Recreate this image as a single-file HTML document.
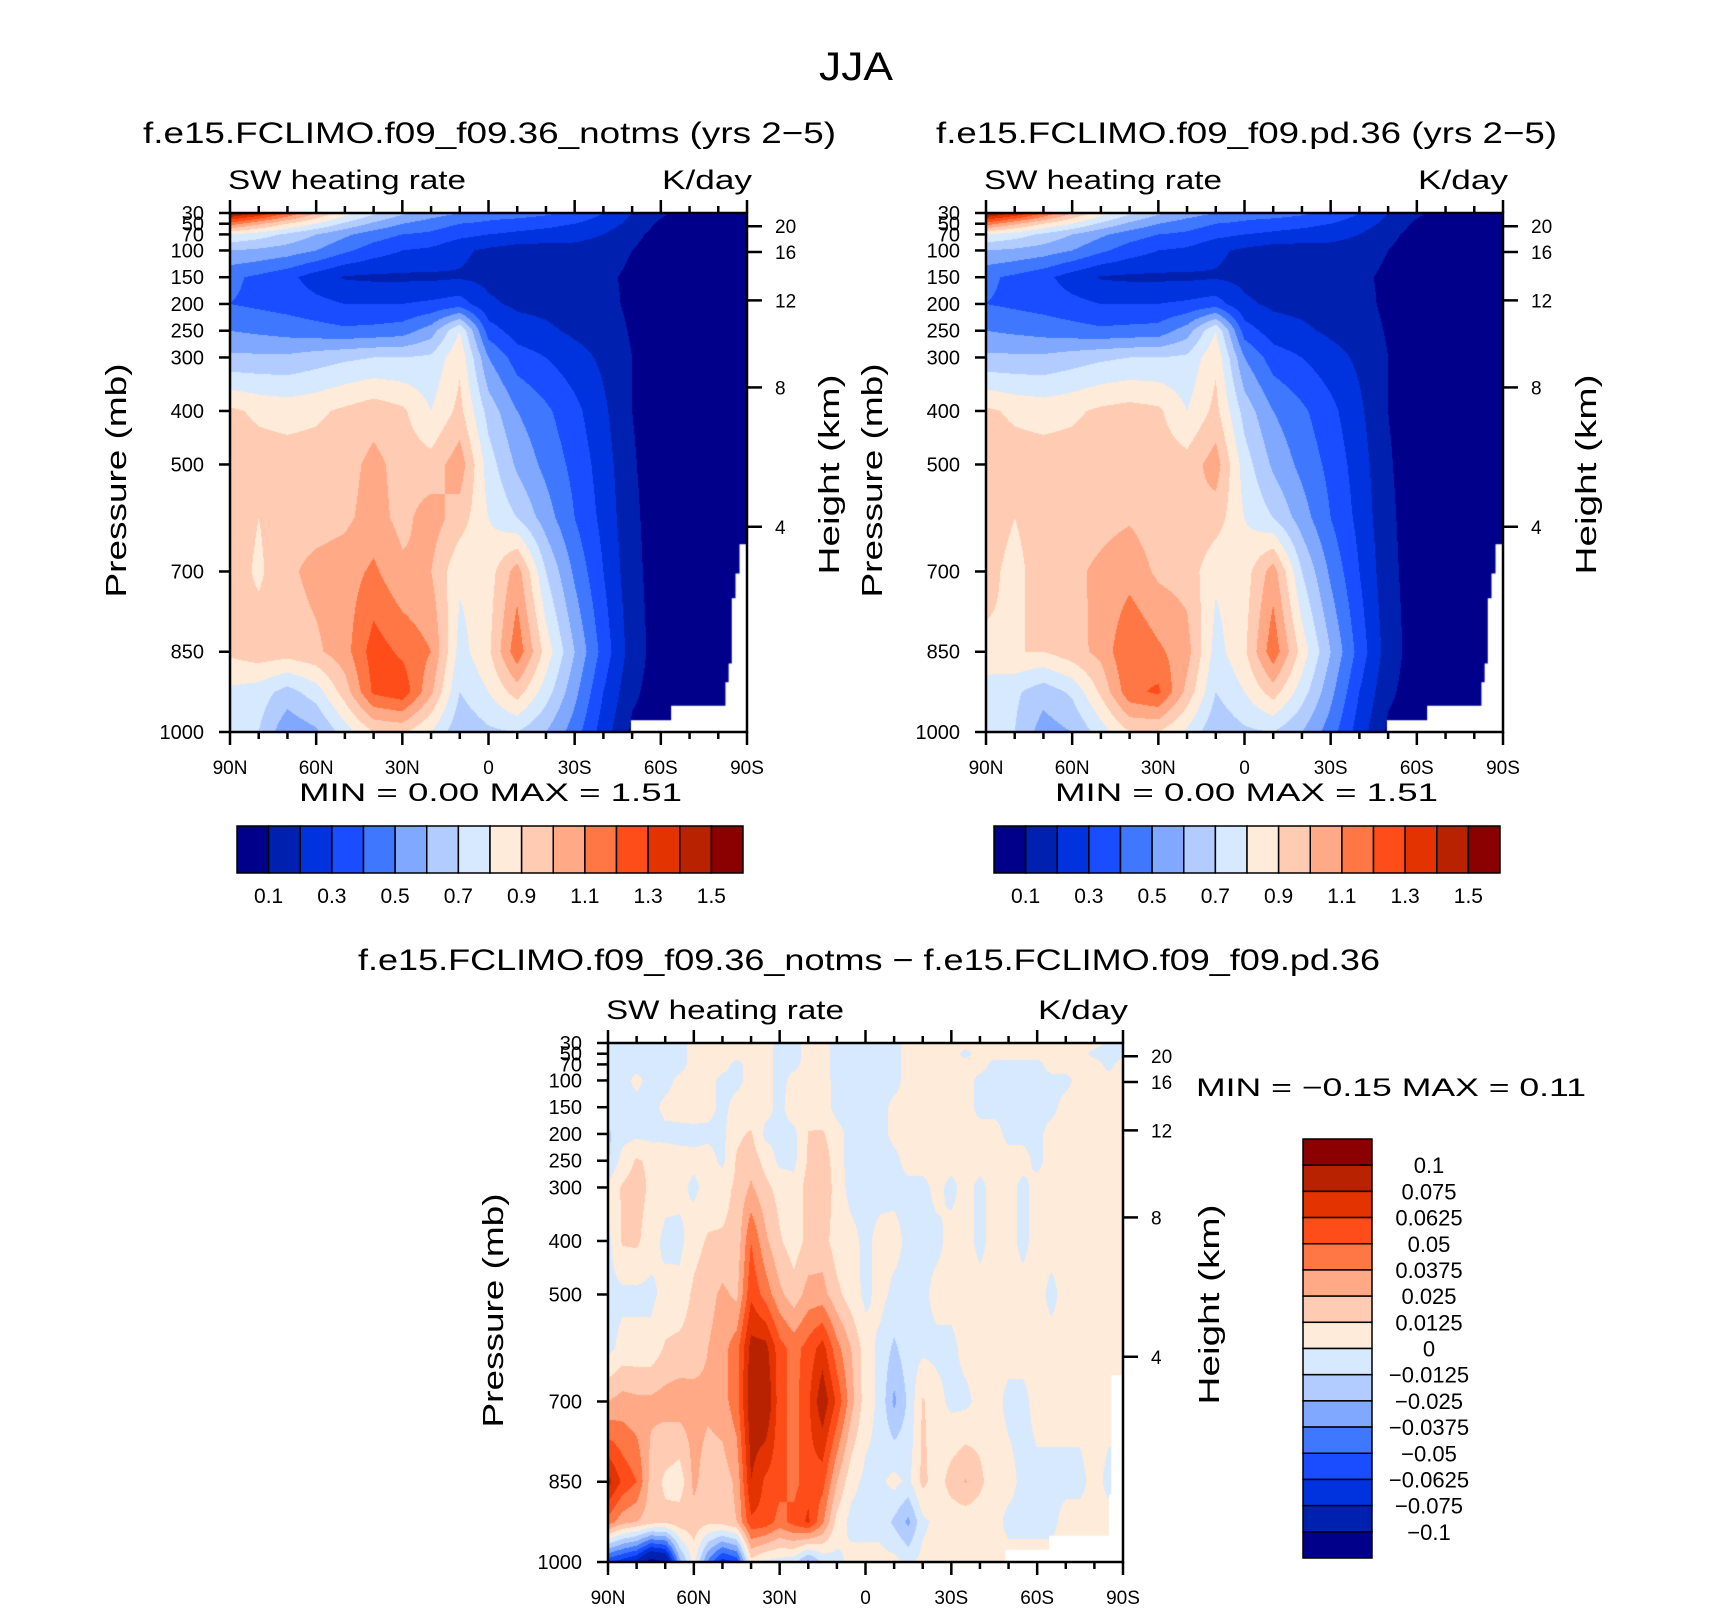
<!DOCTYPE html>
<html><head><meta charset="utf-8">
<style>
html,body{margin:0;padding:0;background:#fff;}
#wrap{position:relative;width:1710px;height:1611px;overflow:hidden;background:#fff;}
canvas{position:absolute;}
svg{position:absolute;left:0;top:0;}
text{font-family:"Liberation Sans",sans-serif;fill:#000;}
</style></head>
<body>
<div id="wrap">
<canvas id="c0"></canvas>
<canvas id="c1"></canvas>
<canvas id="c2"></canvas>
<svg id="ov" width="1710" height="1611"></svg>
</div>
<script>
// ---------- data ----------
const colors=["#00008b","#0021b0","#0033dd","#1a4dff","#4077ff","#80a8ff","#b3ccff","#d6e9ff","#ffebd9","#ffcbb3","#ffa986","#ff7744","#ff4d1a","#e33300","#b82200","#8b0000"];
const pressureLevels=[30,50,70,100,150,200,250,300,400,500,600,700,850,925,1000];
const latsCoarse=[90,80,70,60,50,40,30,20,10,0,-10,-20,-30,-40,-50,-60,-70,-80,-90];
const latsFine=[90,85,80,75,70,65,60,55,50,45,40,35,30,25,20,15,10,5,0,-5,-10,-15,-20,-25,-30,-35,-40,-45,-50,-55,-60,-65,-70,-75,-80,-85,-90];
const contourLevels=[0.1,0.2,0.3,0.4,0.5,0.6,0.7,0.8,0.9,1.0,1.1,1.2,1.3,1.4,1.5];
const diffLevelsMilli=[-100,-75,-62.5,-50,-37.5,-25,-12.5,0,12.5,25,37.5,50,62.5,75,100];
const barLabels=["0.1","0.3","0.5","0.7","0.9","1.1","1.3","1.5"];
const diffBarLabels=["0.1","0.075","0.0625","0.05","0.0375","0.025","0.0125","0","\u22120.0125","\u22120.025","\u22120.0375","\u22120.05","\u22120.0625","\u22120.075","\u22120.1"];
const latTickLabels=["90N","60N","30N","0","30S","60S","90S"];
const pressureTicks=[30,50,70,100,150,200,250,300,400,500,700,850,1000];
const heightTicks=[20,16,12,8,4];
// SW heating rate, notms (K/day), rows = pressureLevels, cols = latsCoarse
const notmsValues=[
[1.55,1.4,1.2,1.0,0.85,0.72,0.62,0.55,0.5,0.45,0.45,0.42,0.38,0.3,0.2,0.12,0.05,0.05,0.05],
[1.15,1.02,0.9,0.8,0.68,0.58,0.5,0.45,0.4,0.38,0.35,0.33,0.3,0.25,0.17,0.08,0.05,0.05,0.05],
[0.8,0.75,0.68,0.6,0.52,0.45,0.4,0.38,0.33,0.3,0.28,0.26,0.24,0.2,0.13,0.06,0.05,0.05,0.05],
[0.6,0.58,0.55,0.5,0.42,0.35,0.3,0.28,0.22,0.18,0.15,0.15,0.16,0.15,0.1,0.05,0.05,0.05,0.05],
[0.42,0.38,0.33,0.25,0.19,0.18,0.18,0.18,0.19,0.17,0.15,0.14,0.13,0.12,0.08,0.05,0.05,0.05,0.05],
[0.4,0.38,0.36,0.33,0.3,0.3,0.3,0.32,0.35,0.22,0.18,0.17,0.15,0.13,0.08,0.05,0.05,0.05,0.05],
[0.5,0.48,0.46,0.44,0.42,0.43,0.45,0.55,0.8,0.35,0.25,0.22,0.18,0.15,0.09,0.05,0.05,0.05,0.05],
[0.62,0.62,0.62,0.65,0.68,0.7,0.7,0.72,0.88,0.5,0.35,0.3,0.24,0.18,0.1,0.05,0.05,0.05,0.05],
[0.92,0.88,0.86,0.88,0.92,0.96,0.92,0.8,0.93,0.66,0.5,0.42,0.33,0.22,0.1,0.05,0.05,0.05,0.05],
[0.96,0.95,0.95,0.95,0.96,1.03,0.96,0.94,1.06,0.75,0.58,0.47,0.37,0.25,0.11,0.05,0.05,0.05,0.05],
[0.96,0.9,0.96,0.96,0.98,1.04,0.97,1.05,0.95,0.8,0.7,0.55,0.4,0.27,0.12,0.05,0.05,0.05,0.05],
[0.96,0.88,0.98,1.03,1.05,1.12,1.02,1.0,0.82,0.85,1.05,0.7,0.48,0.3,0.13,0.05,0.05,0.05,0.05],
[0.92,0.96,0.95,0.98,1.06,1.25,1.18,1.1,0.76,0.88,1.17,0.86,0.6,0.36,0.15,0.05,0.05,0.05,0.05],
[0.78,0.75,0.66,0.75,0.95,1.22,1.27,1.02,0.7,0.8,0.95,0.75,0.53,0.3,0.12,0.05,0.05,0.05,0.05],
[0.72,0.7,0.52,0.58,0.75,0.9,0.92,0.8,0.62,0.68,0.7,0.6,0.45,0.25,0.08,0.05,0.05,0.05,0.05]
];
// SW heating rate, pd (K/day)
const pdValues=[
[1.55,1.4,1.2,1.0,0.85,0.72,0.62,0.55,0.5,0.45,0.45,0.42,0.38,0.3,0.2,0.12,0.05,0.05,0.05],
[1.15,1.02,0.9,0.8,0.68,0.58,0.5,0.45,0.4,0.38,0.35,0.33,0.3,0.25,0.17,0.08,0.05,0.05,0.05],
[0.8,0.75,0.68,0.6,0.52,0.45,0.4,0.38,0.33,0.3,0.28,0.26,0.24,0.2,0.13,0.06,0.05,0.05,0.05],
[0.6,0.58,0.55,0.5,0.42,0.35,0.3,0.28,0.22,0.18,0.15,0.15,0.16,0.15,0.1,0.05,0.05,0.05,0.05],
[0.42,0.38,0.33,0.25,0.19,0.18,0.18,0.18,0.19,0.17,0.15,0.14,0.13,0.12,0.08,0.05,0.05,0.05,0.05],
[0.4,0.38,0.36,0.33,0.3,0.3,0.3,0.32,0.35,0.22,0.18,0.17,0.15,0.13,0.08,0.05,0.05,0.05,0.05],
[0.5,0.48,0.46,0.44,0.42,0.43,0.44,0.55,0.8,0.35,0.25,0.22,0.18,0.15,0.09,0.05,0.05,0.05,0.05],
[0.62,0.62,0.62,0.65,0.68,0.7,0.7,0.72,0.88,0.5,0.35,0.3,0.24,0.18,0.1,0.05,0.05,0.05,0.05],
[0.92,0.88,0.86,0.88,0.92,0.94,0.92,0.8,0.93,0.66,0.5,0.42,0.33,0.22,0.1,0.05,0.05,0.05,0.05],
[0.96,0.95,0.95,0.95,0.96,0.98,0.96,0.94,1.05,0.75,0.58,0.47,0.37,0.25,0.11,0.05,0.05,0.05,0.05],
[0.95,0.9,0.95,0.95,0.97,0.99,0.95,1.0,0.95,0.8,0.7,0.55,0.4,0.27,0.12,0.05,0.05,0.05,0.05],
[0.93,0.87,0.95,0.98,1.02,1.06,0.98,0.96,0.82,0.85,1.05,0.7,0.48,0.3,0.13,0.05,0.05,0.05,0.05],
[0.88,0.9,0.9,0.96,1.03,1.2,1.12,1.04,0.76,0.88,1.17,0.86,0.6,0.36,0.15,0.05,0.05,0.05,0.05],
[0.74,0.72,0.64,0.72,0.92,1.17,1.22,0.97,0.7,0.8,0.95,0.75,0.53,0.3,0.12,0.05,0.05,0.05,0.05],
[0.72,0.7,0.55,0.6,0.75,0.9,0.9,0.78,0.62,0.68,0.7,0.6,0.45,0.25,0.08,0.05,0.05,0.05,0.05]
];
// difference notms - pd, in units of 1e-3 K/day; rows = pressureLevels, cols = latsFine
const diffValuesMilli=[
[-4,-4,-4,-4,-4,-4,4,4,4,4,4,4,-4,-4,4,4,-4,-4,-4,-4,-4,4,4,4,4,4,4,4,4,4,4,4,4,4,4,-3,-3],
[-4,-4,-4,-4,-4,-4,4,4,4,4,4,4,-4,-4,4,4,-4,-4,-4,-4,-4,4,4,4,4,-3,4,4,4,4,4,4,4,4,-3,-3,-3],
[-4,-4,-4,-4,-4,-4,4,4,4,-3,4,4,-4,-3,4,4,-4,-4,-4,-4,-4,4,4,4,4,4,4,-3,-3,-3,-3,4,4,4,4,-3,4],
[-4,-4,3,-4,-4,3,4,4,-3,-3,4,4,-4,4,5,5,-4,-4,-4,-4,-4,4,4,4,4,4,-3,-3,-3,-3,-3,-3,-3,4,4,4,4],
[-4,-4,-4,-4,3,4,5,4,-3,4,5,4,-3,6,8,5,-4,-4,-4,-4,3,4,4,4,4,4,-3,-3,-3,-3,-3,-3,4,4,4,4,4],
[-15,-5,-3,-4,-3,-3,-3,-3,-3,10,14,-3,-3,-3,13,14,4,-4,-4,-4,3,4,4,4,4,4,4,4,-3,-3,-3,4,4,4,4,4,4],
[-14,5,14,10,6,4,3,5,-3,14,20,8,-3,-3,14,22,4,-4,-4,-4,-3,4,4,4,4,4,4,4,4,4,-3,4,4,4,4,4,4],
[4,14,18,10,4,4,-3,5,8,15,27,16,8,4,18,24,6,-4,-4,-4,-3,-3,-3,3,-3,4,-3,4,4,-3,4,4,4,4,4,4,4],
[-4,14,15,5,-3,-4,8,14,14,16,50,28,14,6,16,18,6,4,-3,4,4,-3,-3,-3,4,4,-3,4,4,-3,4,4,4,4,4,4,4],
[-4,-3,-3,-3,4,5,15,20,28,22,60,45,28,18,30,30,16,6,-3,4,-3,-3,-3,4,4,4,4,4,4,4,4,-3,4,4,4,4,4],
[-4,4,4,4,14,16,18,25,32,45,80,80,55,45,55,68,42,25,6,-3,-15,-5,-3,-3,-3,4,4,4,4,4,4,4,4,4,4,4,4],
[25,30,28,28,30,32,30,28,32,45,85,90,55,45,60,85,60,30,6,-3,-28,-10,14,4,-3,-3,4,4,-3,-3,4,4,4,4,4,4,4],
[80,60,50,20,10,5,28,18,18,28,75,60,55,45,58,55,25,4,-3,-3,4,-3,16,6,18,26,16,4,4,-3,-3,-3,-3,-3,4,-3,-3],
[45,30,25,18,16,20,20,16,18,25,60,58,45,55,65,40,8,-4,-4,-4,-15,-28,-3,4,4,4,4,4,-3,-3,-3,-3,4,4,4,4,4],
[-60,-70,-80,-110,-100,-30,5,-40,-70,-60,8,-3,-5,-8,-30,-10,-4,4,4,4,4,-3,4,4,4,4,4,4,4,4,4,4,4,4,4,4,4]
];
// missing-data (topography) outlines as [lat, pressure]
const maskTop=[[-87.4,649],[-90,649],[-90,1000],[-49.6,1000],[-49.6,978],[-63.6,978],[-63.6,951],[-82.5,951],[-82.5,907],[-83.6,907],[-83.6,872],[-84.7,872],[-84.7,750],[-86,750],[-86,704],[-87.4,704]];
const maskDiff=[[-85.9,651],[-90,651],[-90,1000],[-48.9,1000],[-48.9,977],[-64.2,977],[-64.2,951],[-85.1,951],[-85.1,874],[-85.9,874]];

// ---------- rendering ----------
const NS="http://www.w3.org/2000/svg";
const ov=document.getElementById('ov');
function mk(tag,attrs,parent){const e=document.createElementNS(NS,tag);for(const k in attrs)e.setAttribute(k,attrs[k]);(parent||ov).appendChild(e);return e;}
function txt(s,x,y,size,anchor,name,extra){
  const t=mk('text',Object.assign({x:x,y:y,'font-size':size,'text-anchor':anchor||'start'},extra||{}));
  t.textContent=s;
  
  
  return t;
}
function interp(grid,lats,lat,p){
  const step=lats[0]-lats[1];
  let fi=(lats[0]-lat)/step; if(fi<0)fi=0; if(fi>lats.length-1)fi=lats.length-1;
  let i0=Math.min(Math.floor(fi),lats.length-2), ti=fi-i0;
  let j0=0; while(j0<pressureLevels.length-2 && p>pressureLevels[j0+1]) j0++;
  let tj=(p-pressureLevels[j0])/(pressureLevels[j0+1]-pressureLevels[j0]); tj=Math.max(0,Math.min(1,tj));
  const a=grid[j0][i0],b=grid[j0][i0+1],c=grid[j0+1][i0],d=grid[j0+1][i0+1];
  return (a*(1-ti)+b*ti)*(1-tj)+(c*(1-ti)+d*ti)*tj;
}
function hexRGB(h){return [parseInt(h.substr(1,2),16),parseInt(h.substr(3,2),16),parseInt(h.substr(5,2),16)];}
const rgb=colors.map(hexRGB);
function drawContour(id,P,grid,lats,levels,mask){
  const cv=document.getElementById(id);
  cv.width=P.w;cv.height=P.h;cv.style.left=P.x+'px';cv.style.top=P.y+'px';
  const ctx=cv.getContext('2d');
  const img=ctx.createImageData(P.w,P.h);
  for(let py=0;py<P.h;py++){
    const p=30+970*(py+0.5)/P.h;
    for(let px=0;px<P.w;px++){
      const lat=90-180*(px+0.5)/P.w;
      const v=interp(grid,lats,lat,p);
      let k=0; while(k<levels.length && v>=levels[k]) k++;
      const c=rgb[k]; const o=(py*P.w+px)*4;
      img.data[o]=c[0];img.data[o+1]=c[1];img.data[o+2]=c[2];img.data[o+3]=255;
    }
  }
  ctx.putImageData(img,0,0);
  ctx.fillStyle='#fff';ctx.beginPath();
  mask.forEach((m,i)=>{const X=(90-m[0])/180*P.w,Y=(m[1]-30)/970*P.h;if(i)ctx.lineTo(X,Y);else ctx.moveTo(X,Y);});
  ctx.closePath();ctx.fill();
}
function heightToP(zkm){const z=zkm*1000;if(z<=11000)return 1013.25*Math.pow(1-2.25577e-5*z,5.25588);return 226.32*Math.exp(-(z-11000)/6341.6);}
function axes(P,prefix,ylabX,hlabX){
  const xS=lat=>P.x+(90-lat)/180*P.w, yS=p=>P.y+(p-30)/970*P.h;
  const fr=mk('rect',{x:P.x,y:P.y,width:P.w,height:P.h,fill:'none',stroke:'#000','stroke-width':2.5});
  
  
  for(let lat=90;lat>=-90;lat-=10){
    const major=(lat%30===0),L=major?13:7,x=xS(lat);
    const t1=mk('line',{x1:x,y1:P.y+P.h,x2:x,y2:P.y+P.h+L,stroke:'#000','stroke-width':2.5});
    
    
    const t2=mk('line',{x1:x,y1:P.y,x2:x,y2:P.y-L,stroke:'#000','stroke-width':2.5});
    
    
  }
  latTickLabels.forEach((s,i)=>{txt(s,xS(90-30*i),P.y+P.h+42,19,'middle',prefix+'-x-tick-label');});
  pressureTicks.forEach(p=>{
    const y=yS(p);
    const t=mk('line',{x1:P.x-11,y1:y,x2:P.x,y2:y,stroke:'#000','stroke-width':2.5});
    
    
    txt(String(p),P.x-26,y+7,20,'end',prefix+'-y-tick-label');
  });
  heightTicks.forEach(z=>{
    const y=yS(heightToP(z));
    const t=mk('line',{x1:P.x+P.w,y1:y,x2:P.x+P.w+15,y2:y,stroke:'#000','stroke-width':2.5});
    
    
    txt(String(z),P.x+P.w+28,y+7,19,'start',prefix+'-height-tick-label');
  });
  const cy=P.y+P.h/2+8;
  txt('Pressure  (mb)',0,0,29,'middle',prefix+'-y-axis-title',{transform:'translate('+ylabX+','+cy+') rotate(-90)',textLength:234,lengthAdjust:'spacingAndGlyphs'});
  txt('Height  (km)',0,0,29,'middle',prefix+'-height-axis-title',{transform:'translate('+hlabX+','+(cy-6)+') rotate(-90)',textLength:200,lengthAdjust:'spacingAndGlyphs'});
  txt('SW  heating  rate',P.x-2,P.y-24,27,'start',prefix+'-variable-label',{textLength:238,lengthAdjust:'spacingAndGlyphs'});
  txt('K/day',P.x+P.w+5,P.y-24,27,'end',prefix+'-units-label',{textLength:90,lengthAdjust:'spacingAndGlyphs'});
}
function hbar(x,y,w,h,prefix){
  const bw=w/16;
  colors.forEach((c,i)=>{
    const r=mk('rect',{x:x+i*bw,y:y,width:bw,height:h,fill:c,stroke:'#000','stroke-width':1.5});
    
    
  });
  barLabels.forEach((s,i)=>{txt(s,x+(2*i+1)*bw,y+h+30,21,'middle',prefix+'-colorbar-label');});
}
const P0={x:230,y:213,w:517,h:519}, P1={x:986,y:213,w:517,h:519}, P2={x:608,y:1043,w:515,h:519};
drawContour('c0',P0,notmsValues,latsCoarse,contourLevels,maskTop);
drawContour('c1',P1,pdValues,latsCoarse,contourLevels,maskTop);
drawContour('c2',P2,diffValuesMilli,latsFine,diffLevelsMilli,maskDiff);

txt('JJA',856,80,40,'middle','figure-title',{textLength:74,lengthAdjust:'spacingAndGlyphs'});
txt('f.e15.FCLIMO.f09_f09.36_notms (yrs 2\u22125)',143,143,30,'start','left-panel-title',{textLength:693,lengthAdjust:'spacingAndGlyphs'});
txt('f.e15.FCLIMO.f09_f09.pd.36 (yrs 2\u22125)',936,143,30,'start','right-panel-title',{textLength:621,lengthAdjust:'spacingAndGlyphs'});
txt('f.e15.FCLIMO.f09_f09.36_notms \u2212 f.e15.FCLIMO.f09_f09.pd.36',358,970,30,'start','difference-panel-title',{textLength:1022,lengthAdjust:'spacingAndGlyphs'});
axes(P0,'left',126,839);
axes(P1,'right',882,1596);
axes(P2,'diff',503,1219);
txt('MIN  =     0.00   MAX  =     1.51',299,801,25,'start','left-min-max',{textLength:383,lengthAdjust:'spacingAndGlyphs'});
txt('MIN  =     0.00   MAX  =     1.51',1055,801,25,'start','right-min-max',{textLength:383,lengthAdjust:'spacingAndGlyphs'});
txt('MIN  =    \u22120.15   MAX  =     0.11',1196,1096,25,'start','diff-min-max',{textLength:390,lengthAdjust:'spacingAndGlyphs'});
hbar(237,826,506,47,'left');
hbar(994,826,506,47,'right');
(function(){
  const x=1303,y=1139,w=69,h=419,bh=h/16;
  for(let i=0;i<16;i++){
    const r=mk('rect',{x:x,y:y+i*bh,width:w,height:bh,fill:colors[15-i],stroke:'#000','stroke-width':1.5});
    
    
  }
  diffBarLabels.forEach((s,i)=>{txt(s,1429,y+(i+1)*bh+8,22,'middle','diff-colorbar-label');});
})();
</script>
</body></html>
